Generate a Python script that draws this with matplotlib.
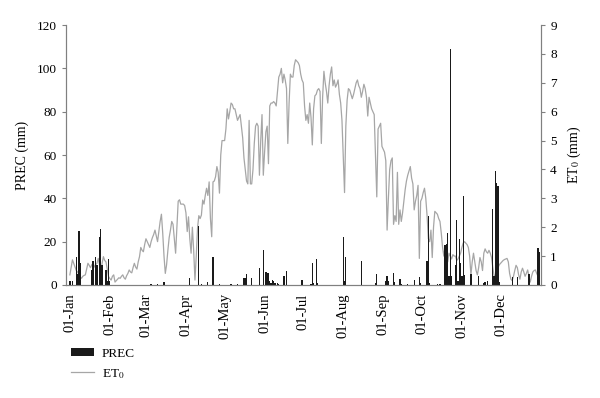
import numpy as np
import matplotlib
matplotlib.use("Agg")
from matplotlib import pyplot as plt
from matplotlib.patches import Patch
from matplotlib.lines import Line2D

plt.rcParams['font.family'] = ['Liberation Serif', 'DejaVu Serif']
plt.rcParams['mathtext.fontset'] = 'stix'

# month starts (day of year, 0-based) and their labels
month_start = [0, 31, 59, 90, 120, 151, 181, 212, 243, 273, 304, 334]
month_labels = ['01-Jan', '01-Feb', '01-Mar', '01-Apr', '01-May', '01-Jun',
                '01-Jul', '01-Aug', '01-Sep', '01-Oct', '01-Nov', '01-Dec']

# daily reference evapotranspiration ET0 (mm)
et0_jan = [0.35, 0.6, 0.87, 0.75, 0.64, 0.5, 0.45, 0.35, 0.28, 0.23, 0.3, 0.33, 0.35, 0.55, 0.75, 0.68,
           0.6, 0.7, 0.75, 0.62, 0.7, 0.75, 0.92, 0.7, 0.46, 0.75, 0.98, 0.85, 0.8, 0.55, 0.29]
et0_feb = [0.22, 0.17, 0.3, 0.35, 0.1, 0.15, 0.2, 0.25, 0.23, 0.3, 0.35, 0.25, 0.2, 0.32, 0.4, 0.52,
           0.45, 0.42, 0.6, 0.75, 0.62, 0.55, 0.8, 0.98, 1.3, 1.2, 1.15, 1.4]
et0_mar = [1.6, 1.5, 1.4, 1.3, 1.5, 1.64, 1.75, 1.9, 1.7, 1.5, 1.85, 2.2, 2.45, 1.8, 1.0, 0.4,
           0.7, 1.2, 1.64, 1.9, 2.2, 2.1, 1.6, 1.1, 2.0, 2.9, 2.95, 2.8, 2.8, 2.8, 2.75]
et0_apr = [2.5, 1.85, 2.36, 1.6, 1.1, 2.0, 1.2, 0.17, 1.0, 1.97, 2.4, 2.3, 2.42, 2.94, 2.8, 3.1,
           3.35, 3.1, 3.57, 2.3, 1.67, 3.57, 3.6, 3.75, 4.1, 3.9, 3.18, 4.5, 5.0, 5.0]
et0_may = [5.0, 5.4, 6.1, 5.75, 6.0, 6.3, 6.25, 6.1, 6.1, 5.9, 5.7, 5.8, 5.9, 5.5, 5.1, 4.4,
           4.0, 3.6, 3.5, 5.7, 3.5, 3.5, 4.0, 4.9, 5.5, 5.6, 5.5, 3.8, 5.0, 5.9, 3.8]
et0_jun = [4.6, 5.3, 5.5, 4.2, 6.2, 6.3, 6.3, 6.35, 6.3, 6.2, 6.7, 7.2, 7.3, 7.5, 7.0, 7.3,
           7.1, 6.8, 4.9, 6.3, 7.3, 7.2, 7.2, 7.6, 7.8, 7.75, 7.7, 7.6, 7.3, 7.1]
et0_jul = [7.0, 6.2, 5.7, 5.9, 5.6, 6.3, 5.8, 4.85, 6.1, 6.55, 6.6, 6.75, 6.8, 6.7, 4.9, 6.5,
           7.4, 7.0, 6.7, 6.3, 6.9, 7.3, 7.55, 6.9, 7.1, 6.85, 6.95, 7.1, 6.6, 6.3, 5.7]
et0_aug = [4.5, 3.2, 5.5, 6.4, 6.8, 6.75, 6.6, 6.45, 6.6, 6.8, 7.0, 7.1, 6.9, 6.8, 6.5, 6.7,
           6.95, 6.8, 6.5, 5.85, 6.5, 6.3, 6.1, 6.0, 5.9, 4.5, 3.05, 5.4, 5.5, 5.6, 4.8]
et0_sep = [4.7, 4.6, 4.3, 1.9, 3.0, 4.0, 4.3, 4.4, 2.1, 2.4, 2.2, 3.9, 2.1, 2.6, 2.2, 2.5,
           2.9, 3.3, 3.6, 3.8, 3.95, 4.1, 3.7, 3.5, 2.6, 2.9, 3.1, 3.45, 0.92, 2.9]
et0_oct = [3.0, 3.2, 3.35, 3.0, 2.4, 1.6, 1.5, 1.9, 0.95, 2.0, 2.55, 2.5, 2.45, 2.3, 2.2, 1.8,
           1.3, 1.0, 1.35, 0.85, 0.8, 1.1, 1.0, 0.9, 1.05, 1.0, 1.0, 0.85, 0.9, 1.0, 1.1]
et0_nov = [1.3, 1.45, 1.5, 1.45, 1.4, 1.3, 1.0, 0.35, 0.8, 1.1, 0.8, 0.5, 0.35, 0.6, 0.95, 0.8,
           0.5, 1.1, 1.25, 1.15, 1.1, 1.2, 1.1, 0.95, 0.6, 0.3, 0.35, 0.45, 0.6, 0.7]
et0_dec = [0.75, 0.8, 0.85, 0.88, 0.9, 0.92, 0.8, 0.4, 0.2, 0.15, 0.3, 0.5, 0.68, 0.6, 0.35, 0.2,
           0.45, 0.58, 0.45, 0.3, 0.4, 0.52, 0.3, 0.1, 0.3, 0.45, 0.5, 0.52, 0.4, 0.3, 0.1]

# rainy days (day of year) and precipitation (mm)
prec_day = [0, 2, 5, 6, 7, 8, 17, 18, 20, 21, 23, 24, 25, 28, 29, 30, 31,
            63, 68, 73,
            93, 100, 102, 107, 111, 116,
            125, 130, 135, 136, 137, 141, 147, 150,
            152, 153, 154, 155, 156, 157, 158, 159, 161, 162, 166, 168, 180,
            187, 188, 189, 191, 192,
            212, 213, 214, 226, 237, 238,
            245, 246, 247, 251, 252, 256, 257, 262, 267, 271, 272,
            277, 278, 279, 285, 287, 291, 292, 293, 294, 295, 296, 299, 300, 301, 302, 303,
            304, 305, 306, 311, 317, 321, 322, 324, 328, 329, 330, 331, 332, 333,
            343, 347, 356, 363, 364]
prec_mm = [2, 2, 13, 5, 25, 10, 7, 11, 13, 9, 22, 26, 9, 7, 2, 12, 2,
           0.5, 0.5, 1.5,
           3, 27, 0.5, 1.5, 13, 0.4,
           0.4, 0.4, 3, 3, 5, 3, 8, 16,
           6, 5.5, 5.5, 2, 1, 2.5, 2, 1, 1, 0.5, 4, 6.5, 2.5,
           0.5, 10, 1, 12, 1,
           22, 2, 13, 11, 1, 5,
           2, 4, 2, 5.5, 1.5, 2.7, 0.5, 0.5, 2.2, 3.6, 1,
           11, 32, 1, 0.3, 0.3, 18.5, 19, 24, 4, 109, 4, 9, 30, 2, 21, 10,
           4, 41, 4.5, 5, 4, 1, 1.5, 2, 35, 4, 52.5, 47, 45.5, 1.5,
           3.7, 3.7, 5, 17, 15]

et0 = (et0_jan + et0_feb + et0_mar + et0_apr + et0_may + et0_jun +
       et0_jul + et0_aug + et0_sep + et0_oct + et0_nov + et0_dec)
days = np.arange(len(et0))

fig = plt.figure(figsize=(6, 3.98), dpi=100)
ax = fig.add_axes([0.11, 0.284, 0.792, 0.653])
ax2 = ax.twinx()

ax2.plot(days, et0, color='#a6a6a6', lw=0.9)
ax.bar(prec_day, prec_mm, width=1.0, color='#1a1a1a', linewidth=0)

# bars above the line
ax.set_zorder(ax2.get_zorder() + 1)
ax.patch.set_visible(False)

ax.set_xlim(-3, 365.5)
ax.set_ylim(0, 120)
ax.set_yticks(np.arange(0, 121, 20))
ax2.set_ylim(0, 9)
ax2.set_yticks(np.arange(0, 10, 1))

ax.set_xticks(month_start)
ax.set_xticklabels(month_labels, rotation=90)
ax.tick_params(axis='x', length=0, pad=6, labelsize=10.5)
ax.tick_params(axis='y', length=3, color='#808080', labelsize=9.5)
ax2.tick_params(axis='y', length=3, color='#808080', labelsize=9.5)

for a in (ax, ax2):
    a.spines['top'].set_visible(False)
    for s in ('left', 'right', 'bottom'):
        a.spines[s].set_color('#808080')
        a.spines[s].set_linewidth(0.8)

ax.set_ylabel('PREC (mm)', fontsize=10, labelpad=6)
ax2.set_ylabel(r'ET$_0$ (mm)', fontsize=10, labelpad=6)

handles = [Patch(facecolor='#1a1a1a', edgecolor='none'),
           Line2D([0], [0], color='#a6a6a6', lw=0.9)]
fig.legend(handles, ['PREC', r'ET$_0$'], loc='upper left', bbox_to_anchor=(0.11, 0.14),
           frameon=False, fontsize=9.5, handlelength=1.7, handleheight=0.6,
           handletextpad=0.6, labelspacing=0.55, borderaxespad=0)

fig.savefig('out.png', dpi=100)
